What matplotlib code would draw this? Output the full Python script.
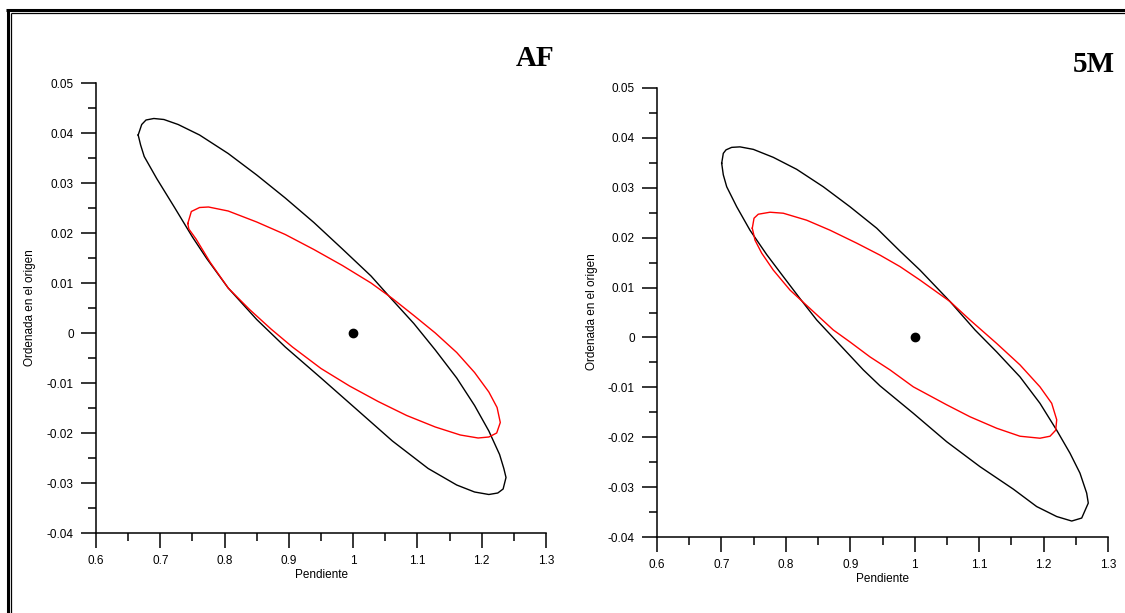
import matplotlib
matplotlib.use("Agg")
import matplotlib.pyplot as plt
from matplotlib.lines import Line2D
from matplotlib.ticker import MultipleLocator, FuncFormatter

plt.rcParams['font.family'] = ['Liberation Sans', 'DejaVu Sans']
plt.rcParams['axes.unicode_minus'] = False

# Panel AF: confidence ellipses (pendiente, ordenada)
af_black_x = [0.6656, 0.6711, 0.6778, 0.69, 0.7056, 0.7278, 0.7611, 0.8056, 0.85, 0.8944,
              0.9389, 0.9833, 1.0278, 1.0611, 1.0944, 1.1278, 1.1611, 1.1889, 1.2111, 1.2278,
              1.2344, 1.2378, 1.2333, 1.225, 1.2111, 1.1889, 1.1611, 1.1167, 1.0611, 1.0056,
              0.95, 0.8944, 0.85, 0.8056, 0.7722, 0.75, 0.7222, 0.6944, 0.675, 0.6694, 0.6656]
af_black_y = [0.0396, 0.0417, 0.0426, 0.0429, 0.0427, 0.0417, 0.0396, 0.0359, 0.0316, 0.0270,
              0.0221, 0.0168, 0.0114, 0.0066, 0.0019, -0.0034, -0.0090, -0.0145, -0.0196, -0.0243,
              -0.0271, -0.0289, -0.0312, -0.0320, -0.0323, -0.0318, -0.0304, -0.0271, -0.0216, -0.0153,
              -0.0090, -0.0028, 0.0027, 0.0090, 0.0149, 0.0192, 0.0251, 0.0309, 0.0353, 0.0376, 0.0396]

af_red_x = [0.7428, 0.7483, 0.7611, 0.775, 0.8056, 0.85, 0.8944, 0.9389, 0.9833, 1.0278,
            1.0611, 1.0944, 1.1278, 1.1611, 1.1889, 1.2111, 1.2239, 1.2289, 1.2233, 1.2111,
            1.1944, 1.1667, 1.1278, 1.0833, 1.0389, 0.9944, 0.95, 0.9056, 0.8722, 0.8389,
            0.8056, 0.7778, 0.7556, 0.7444, 0.7428]
af_red_y = [0.0219, 0.0243, 0.0251, 0.0252, 0.0244, 0.0222, 0.0197, 0.0167, 0.0135, 0.0100,
            0.0069, 0.0035, 0.0000, -0.0039, -0.0079, -0.0118, -0.0149, -0.0179, -0.0200, -0.0208,
            -0.0210, -0.0204, -0.0188, -0.0165, -0.0137, -0.0106, -0.0071, -0.0028, 0.0008, 0.0047,
            0.0090, 0.0141, 0.0188, 0.0208, 0.0219]

# Panel 5M
m5_black_x = [0.7004, 0.7029, 0.7071, 0.7159, 0.7288, 0.7495, 0.7805, 0.8168, 0.8581, 0.8995,
              0.941, 0.9772, 1.0082, 1.0548, 1.0936, 1.1272, 1.1634, 1.1944, 1.2204, 1.241,
              1.2565, 1.2669, 1.2694, 1.2592, 1.2437, 1.2204, 1.1893, 1.153, 1.1013, 1.0496,
              0.9978, 0.9461, 0.9202, 0.884, 0.8479, 0.8219, 0.796, 0.7703, 0.7443, 0.7237,
              0.7082, 0.7029, 0.7004]
m5_black_y = [0.0349, 0.0369, 0.0376, 0.0381, 0.0382, 0.0377, 0.0361, 0.0337, 0.0302, 0.0262,
              0.0219, 0.0173, 0.0135, 0.0072, 0.0015, -0.0029, -0.0079, -0.0132, -0.0186, -0.0232,
              -0.0272, -0.0312, -0.0332, -0.0362, -0.0368, -0.0359, -0.0339, -0.0304, -0.0259, -0.0209,
              -0.0152, -0.0097, -0.0065, -0.0015, 0.0035, 0.0078, 0.0122, 0.0166, 0.0215, 0.0262,
              0.0302, 0.0326, 0.0349]

m5_red_x = [0.7479, 0.7506, 0.7572, 0.7754, 0.796, 0.8323, 0.8685, 0.91, 0.9461, 0.9772,
            1.0082, 1.0548, 1.0858, 1.1272, 1.1634, 1.1944, 1.2126, 1.2204, 1.2188, 1.21,
            1.1944, 1.1634, 1.1272, 1.0858, 1.0496, 0.9978, 0.9616, 0.9306, 0.8995, 0.8736,
            0.8375, 0.8064, 0.7805, 0.7625, 0.7521, 0.7479]
m5_red_y = [0.0219, 0.0239, 0.0247, 0.0251, 0.0249, 0.0235, 0.0215, 0.0189, 0.0165, 0.0142,
            0.0115, 0.0072, 0.0035, -0.0012, -0.0055, -0.0099, -0.0132, -0.0165, -0.0186, -0.0198,
            -0.0202, -0.0198, -0.0182, -0.0159, -0.0135, -0.0099, -0.0065, -0.0039, -0.0009, 0.0015,
            0.0058, 0.0095, 0.0135, 0.0169, 0.0195, 0.0219]

center_x = [1.0]
center_y = [0.0]

x_ticks = [0.6, 0.7, 0.8, 0.9, 1.0, 1.1, 1.2, 1.3]
y_ticks = [-0.04, -0.03, -0.02, -0.01, 0.0, 0.01, 0.02, 0.03, 0.04, 0.05]

W, H = 1125, 613
fig = plt.figure(figsize=(W / 100, H / 100), dpi=100)


def px(x, y):
    return x / W, 1 - y / H


def make_panel(rect, bx, by, rx, ry, title, title_xy, ylab_xy):
    ax = fig.add_axes(rect)
    ax.plot(bx, by, color="black", lw=1.0)
    ax.plot(rx, ry, color="#ff0000", lw=1.0)
    ax.plot(center_x, center_y, "o", color="black", ms=6)
    ax.set_xlim(0.6, 1.3)
    ax.set_ylim(-0.04, 0.05)
    ax.set_xticks(x_ticks)
    ax.set_yticks(y_ticks)
    ax.xaxis.set_minor_locator(MultipleLocator(0.05))
    ax.yaxis.set_minor_locator(MultipleLocator(0.005))
    fmt = FuncFormatter(lambda v, p: f"{round(v, 3):g}")
    ax.xaxis.set_major_formatter(fmt)
    ax.yaxis.set_major_formatter(fmt)
    for s in ["top", "right"]:
        ax.spines[s].set_visible(False)
    for s in ["left", "bottom"]:
        ax.spines[s].set_linewidth(1.1)
    ax.tick_params(which="major", direction="out", length=10.5, width=1.1,
                   labelsize=8.5, pad=5.5)
    ax.tick_params(which="minor", direction="out", length=5.5, width=1.1)
    ax.set_xlabel("Pendiente", fontsize=8.5, labelpad=1)
    fig.text(*px(*ylab_xy), "Ordenada en el origen", rotation=90,
             ha="center", va="center", fontsize=8.5)
    fig.text(*px(*title_xy), title, ha="center", va="center", fontsize=21,
             fontweight="bold", family="Liberation Serif")
    return ax


make_panel([96 / W, 1 - 533 / H, 450 / W, 450 / H],
           af_black_x, af_black_y, af_red_x, af_red_y, "AF", (535, 58), (30, 308))
make_panel([657 / W, 1 - 537 / H, 451 / W, 449 / H],
           m5_black_x, m5_black_y, m5_red_x, m5_red_y, "5M", (1094, 64), (592, 312))

# double frame around the figure
frame = dict(color="black", solid_capstyle="butt")
fig.add_artist(Line2D([7.5 / W, 7.5 / W], [0, 1 - 8.5 / H], lw=2.2, **frame))
fig.add_artist(Line2D([6 / W, 1], [1 - 9.5 / H, 1 - 9.5 / H], lw=2.2, **frame))
fig.add_artist(Line2D([11 / W, 11 / W], [0, 1 - 12.8 / H], lw=0.9, **frame))
fig.add_artist(Line2D([10.5 / W, 1], [1 - 12.8 / H, 1 - 12.8 / H], lw=0.9, **frame))

fig.savefig("out.png", dpi=100)
